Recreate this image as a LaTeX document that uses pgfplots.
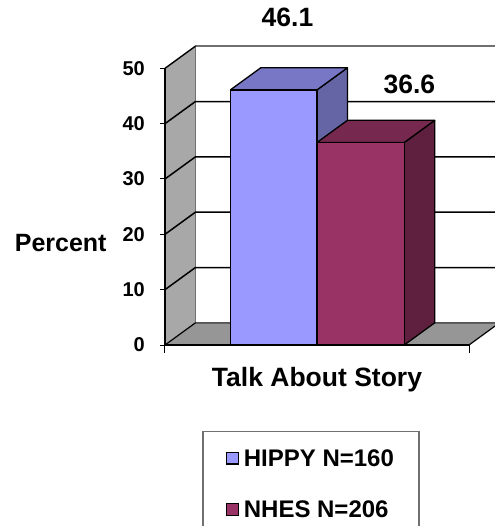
\documentclass[border=0pt]{standalone}
\usepackage{pgfplots}
\pgfplotsset{compat=1.18}
\usepackage{fontspec}
\setmainfont{Liberation Sans}
\definecolor{hfront}{HTML}{9999FF}
\definecolor{htop}{HTML}{7777C6}
\definecolor{hside}{HTML}{6565A6}
\definecolor{nfront}{HTML}{993366}
\definecolor{ntop}{HTML}{76284F}
\definecolor{nside}{HTML}{5F1F3F}
\definecolor{wallgray}{HTML}{A8A8A8}
\definecolor{floorgray}{HTML}{969696}
\definecolor{edgegray}{HTML}{707070}
\begin{document}
\begin{tikzpicture}
\path[use as bounding box] (-165pt,-181pt) rectangle (329pt,345pt);
\begin{axis}[
  at={(0pt,0pt)}, anchor=south west,
  scale only axis, width=304pt, height=298.8pt,
  xmin=0, xmax=10, ymin=0, ymax=54,
  clip=false,
  axis line style={draw=none},
  xtick=\empty,
  ytick={0,10,20,30,40,50}, yticklabels={0,10,20,30,40,50},
  ytick pos=left, tick align=outside, major tick length=5pt,
  tick style={black, line width=1pt},
  yticklabel style={font=\bfseries\fontsize{20}{24}\selectfont, anchor=east, inner sep=0pt, xshift=-15pt},
  ylabel={Percent},
  ylabel style={rotate=-90, at={(rel axis cs:-0.343,0.313)}, anchor=base, font=\bfseries\fontsize{25}{30}\selectfont},
  xlabel={Talk About Story},
  xlabel style={at={(rel axis cs:0.5,0)}, anchor=base, yshift=-41.7pt, font=\bfseries\fontsize{26.5}{31}\selectfont},
  legend style={at={(rel axis cs:0.1227,-0.2878)}, anchor=north west, draw=edgegray, line width=1.3pt,
    font=\bfseries\fontsize{24}{28}\selectfont, inner xsep=23pt, inner ysep=16pt, row sep=29pt, column sep=3pt},
  legend cell align=left,
  sq/.style={legend image code/.code={\draw[##1, draw=black, line width=1.3pt] (0pt,-5.3pt) rectangle (11.6pt,6.3pt);}},
]
% left side wall
\addplot[fill=wallgray, draw=none, forget plot] coordinates {(0,0) (1,4) (1,54) (0,50) (0,0)};
\draw[edgegray, line width=1.4pt] (axis cs:1,4) -- (axis cs:1,54) -- (axis cs:11,54);
\draw[black, line width=1.4pt] (axis cs:0,50) -- (axis cs:1,54);
% gridlines on side wall and back wall
\draw[black, line width=1.5pt] (axis cs:0,10) -- (axis cs:1,14) -- (axis cs:11,14);
\draw[black, line width=1.5pt] (axis cs:0,20) -- (axis cs:1,24) -- (axis cs:11,24);
\draw[black, line width=1.5pt] (axis cs:0,30) -- (axis cs:1,34) -- (axis cs:11,34);
\draw[black, line width=1.5pt] (axis cs:0,40) -- (axis cs:1,44) -- (axis cs:11,44);
% floor
\addplot[fill=floorgray, draw=black, line width=1.2pt, line join=round, forget plot] coordinates {(0,0) (10,0) (11,4) (1,4) (0,0)};
% front axis line and edge
\draw[black, line width=1.4pt] (axis cs:0,0) -- (axis cs:0,50);
\draw[black, line width=1.4pt] (axis cs:0,0) -- (axis cs:10,0);
\draw[black, line width=1pt] (axis cs:0,0) -- ++(0,-8pt);
\draw[black, line width=1pt] (axis cs:10,0) -- ++(0,-8pt);
% HIPPY bar
\addplot[fill=hside, draw=black, line width=1.3pt, line join=round, forget plot] coordinates {(5,0) (6,4) (6,50.1) (5,46.1) (5,0)};
\addplot[fill=htop, draw=black, line width=1.3pt, line join=round, forget plot] coordinates {(2.15,46.1) (5,46.1) (6,50.1) (3.15,50.1) (2.15,46.1)};
\addplot[ybar, bar width=2.85, bar shift=0pt, fill=hfront, draw=black, line width=1.3pt, sq] coordinates {(3.575,46.1)};
\addlegendentry{HIPPY N=160}
% NHES bar
\addplot[fill=nside, draw=black, line width=1.3pt, line join=round, forget plot] coordinates {(7.87,0) (8.87,4) (8.87,40.6) (7.87,36.6) (7.87,0)};
\addplot[fill=ntop, draw=black, line width=1.3pt, line join=round, forget plot] coordinates {(5,36.6) (7.87,36.6) (8.87,40.6) (6,40.6) (5,36.6)};
\addplot[ybar, bar width=2.87, bar shift=0pt, fill=nfront, draw=black, line width=1.3pt, sq] coordinates {(6.435,36.6)};
\addlegendentry{NHES N=206}
% data labels
\node[anchor=base, font=\bfseries\fontsize{26.5}{31}\selectfont] at (axis cs:4.03,57.5) {46.1};
\node[anchor=base, font=\bfseries\fontsize{26.5}{31}\selectfont] at (axis cs:8.04,45.5) {36.6};
\end{axis}
\end{tikzpicture}
\end{document}
